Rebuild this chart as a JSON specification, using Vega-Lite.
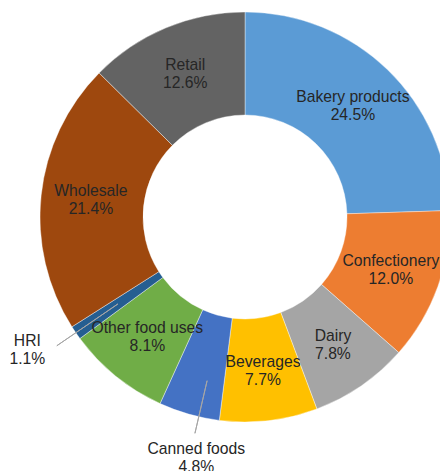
{
  "$schema": "https://vega.github.io/schema/vega-lite/v6.json",
  "autosize": "none",
  "width": 390,
  "height": 434,
  "padding": {"left": 50, "top": 0, "right": 0, "bottom": 37},
  "background": "white",
  "config": {"view": {"stroke": null}},
  "data": {"values": [
    {"category": "Bakery products", "share": 0.245, "order": 1},
    {"category": "Confectionery", "share": 0.120, "order": 2},
    {"category": "Dairy", "share": 0.078, "order": 3},
    {"category": "Beverages", "share": 0.077, "order": 4},
    {"category": "Canned foods", "share": 0.048, "order": 5},
    {"category": "Other food uses", "share": 0.081, "order": 6},
    {"category": "HRI", "share": 0.011, "order": 7},
    {"category": "Wholesale", "share": 0.214, "order": 8},
    {"category": "Retail", "share": 0.126, "order": 9}
  ]},
  "transform": [
    {"stack": "share", "groupby": [], "sort": [{"field": "order", "order": "ascending"}], "as": ["v0", "v1"]},
    {"calculate": "(datum.v0 + datum.v1) / 2", "as": "mid"}
  ],
  "layer": [
    {
      "mark": {"type": "arc", "innerRadius": 102, "outerRadius": 205, "stroke": "#ffffff", "strokeWidth": 0.4},
      "encoding": {
        "theta": {"field": "v0", "type": "quantitative", "stack": null, "scale": {"domain": [0, 1]}},
        "theta2": {"field": "v1"},
        "color": {
          "field": "category", "type": "nominal", "legend": null,
          "scale": {
            "domain": ["Bakery products", "Confectionery", "Dairy", "Beverages", "Canned foods", "Other food uses", "HRI", "Wholesale", "Retail"],
            "range": ["#5B9BD5", "#ED7D31", "#A5A5A5", "#FFC000", "#4472C4", "#70AD47", "#255E91", "#9E480E", "#636363"]
          }
        }
      }
    },
    {
      "transform": [{"filter": "datum.order == 7"}],
      "mark": {"type": "arc", "innerRadius": 154, "outerRadius": 228, "fill": null, "stroke": "#a6a6a6", "strokeWidth": 1},
      "encoding": {
        "theta": {"field": "mid", "type": "quantitative", "stack": null},
        "theta2": {"field": "mid"}
      }
    },
    {
      "transform": [{"filter": "datum.order == 5"}],
      "mark": {"type": "arc", "innerRadius": 168, "outerRadius": 222, "fill": null, "stroke": "#a6a6a6", "strokeWidth": 1, "thetaOffset": -0.049, "theta2Offset": -0.049},
      "encoding": {
        "theta": {"field": "mid", "type": "quantitative", "stack": null},
        "theta2": {"field": "mid"}
      }
    },
    {
      "transform": [{"filter": "datum.order != 5 && datum.order != 7"}],
      "mark": {"type": "text", "radius": 155, "dy": -9, "font": "Liberation Sans", "fontSize": 15.7, "fill": "#262626"},
      "encoding": {
        "theta": {"field": "mid", "type": "quantitative", "stack": null},
        "text": {"field": "category", "type": "nominal"}
      }
    },
    {
      "transform": [{"filter": "datum.order != 5 && datum.order != 7"}],
      "mark": {"type": "text", "radius": 155, "dy": 9, "font": "Liberation Sans", "fontSize": 15.7, "fill": "#262626"},
      "encoding": {
        "theta": {"field": "mid", "type": "quantitative", "stack": null},
        "text": {"field": "share", "type": "quantitative", "format": ".1%"}
      }
    },
    {
      "transform": [{"filter": "datum.order == 7"}],
      "mark": {"type": "text", "radius": 255, "thetaOffset": 0.052, "dy": -9, "font": "Liberation Sans", "fontSize": 15.7, "fill": "#262626"},
      "encoding": {
        "theta": {"field": "mid", "type": "quantitative", "stack": null},
        "text": {"field": "category", "type": "nominal"}
      }
    },
    {
      "transform": [{"filter": "datum.order == 7"}],
      "mark": {"type": "text", "radius": 255, "thetaOffset": 0.052, "dy": 9, "font": "Liberation Sans", "fontSize": 15.7, "fill": "#262626"},
      "encoding": {
        "theta": {"field": "mid", "type": "quantitative", "stack": null},
        "text": {"field": "share", "type": "quantitative", "format": ".1%"}
      }
    },
    {
      "transform": [{"filter": "datum.order == 5"}],
      "mark": {"type": "text", "radius": 246, "thetaOffset": -0.077, "dy": -9, "font": "Liberation Sans", "fontSize": 15.7, "fill": "#262626"},
      "encoding": {
        "theta": {"field": "mid", "type": "quantitative", "stack": null},
        "text": {"field": "category", "type": "nominal"}
      }
    },
    {
      "transform": [{"filter": "datum.order == 5"}],
      "mark": {"type": "text", "radius": 246, "thetaOffset": -0.077, "dy": 9, "font": "Liberation Sans", "fontSize": 15.7, "fill": "#262626"},
      "encoding": {
        "theta": {"field": "mid", "type": "quantitative", "stack": null},
        "text": {"field": "share", "type": "quantitative", "format": ".1%"}
      }
    }
  ]
}
